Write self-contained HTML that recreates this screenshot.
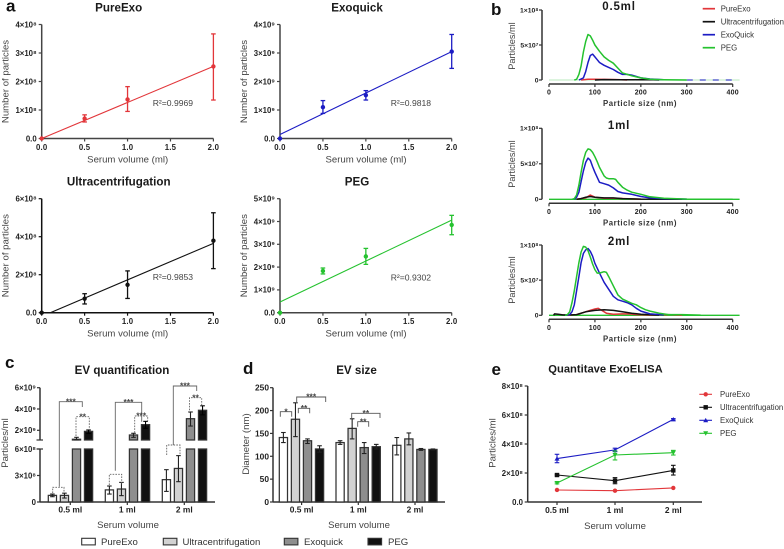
<!DOCTYPE html>
<html lang="en">
<head>
<meta charset="utf-8">
<title>EV isolation comparison figure</title>
<style>
html,body{margin:0;padding:0;background:#fff;width:784px;height:549px;overflow:hidden}
svg{display:block;font-family:"Liberation Sans",Arial,sans-serif;filter:blur(0.35px)}
</style>
</head>
<body>
<svg id="fig" xmlns="http://www.w3.org/2000/svg" width="784" height="549" viewBox="0 0 784 549">
<rect width="784" height="549" fill="#fff"/>
</svg>
<script>
// ---------- panel a data ----------
const volumes = [0, 0.5, 1, 2];
const xTicksA = [0, 0.5, 1, 1.5, 2];
const xTickLabelsA = ['0.0', '0.5', '1.0', '1.5', '2.0'];

const pureExoMean = [0, 0.7, 1.37, 2.53];
const pureExoLow = [0, 0.58, 0.95, 1.35];
const pureExoHigh = [0, 0.83, 1.82, 3.67];
const pureExoFit = [[0, 0], [2, 2.53]];
const pureExoTicks = [0, 1, 2, 3, 4];
const pureExoTickLabels = ['0.0', '1×10⁸', '2×10⁸', '3×10⁸', '4×10⁸'];

const exoquickMean = [0, 1.1, 1.52, 3.05];
const exoquickLow = [0, 0.88, 1.35, 2.46];
const exoquickHigh = [0, 1.33, 1.68, 3.65];
const exoquickFit = [[0, 0.14], [2, 3.05]];
const exoquickTicks = [0, 1, 2, 3, 4];
const exoquickTickLabels = ['0.0', '1×10⁹', '2×10⁹', '3×10⁹', '4×10⁹'];

const ultraMean = [0, 0.74, 1.47, 3.79];
const ultraLow = [0, 0.46, 0.75, 2.32];
const ultraHigh = [0, 1.0, 2.2, 5.26];
const ultraFit = [[0.1, 0], [2, 3.65]];
const ultraTicks = [0, 2, 4, 6];
const ultraTickLabels = ['0.0', '2×10⁸', '4×10⁸', '6×10⁸'];

const pegMean = [0, 1.83, 2.47, 3.85];
const pegLow = [0, 1.7, 2.12, 3.42];
const pegHigh = [0, 1.96, 2.82, 4.27];
const pegFit = [[0, 0.47], [2, 4.06]];
const pegTicks = [0, 1, 2, 3, 4, 5];
const pegTickLabels = ['0.0', '1×10⁹', '2×10⁹', '3×10⁹', '4×10⁹', '5×10⁹'];

// ---------- panel b data: [size nm, fraction of 1e8] ----------
const sizeTicks = [0, 100, 200, 300, 400];
const sizeLabelTicks = ['0', '100', '200', '300', '400'];
const nta05Red = [[70,0],[85,0.012],[100,0.01],[120,0.008],[150,0.006],[170,0]];
const nta05Black = [[100,0],[120,0.006],[150,0.004],[185,0.004],[220,0.006],[240,0]];
const nta05Blue = [[65,0],[75,0.03],[80,0.12],[85,0.25],[90,0.35],[95,0.37],[100,0.33],[105,0.29],[110,0.25],[120,0.21],[130,0.18],[140,0.15],[150,0.11],[160,0.08],[170,0.08],[180,0.07],[190,0.05],[200,0.03],[220,0.015],[250,0.003]];
const nta05Green = [[55,0],[60,0.01],[65,0.08],[70,0.2],[75,0.4],[80,0.55],[85,0.65],[90,0.63],[95,0.57],[100,0.5],[110,0.41],[120,0.33],[130,0.28],[140,0.24],[150,0.17],[160,0.1],[170,0.08],[180,0.06],[200,0.03],[220,0.01],[250,0.005],[300,0]];
const nta1Red = [[60,0],[80,0.02],[90,0.06],[100,0.03],[120,0.015],[140,0.015],[180,0.005],[200,0]];
const nta1Black = [[60,0],[70,0.01],[80,0.03],[90,0.04],[100,0.03],[120,0.02],[140,0.02],[160,0.01],[200,0.003],[290,0]];
const nta1Blue = [[55,0],[60,0.03],[65,0.1],[70,0.25],[75,0.4],[80,0.52],[85,0.58],[90,0.55],[95,0.46],[100,0.38],[110,0.24],[120,0.22],[130,0.2],[140,0.16],[150,0.11],[160,0.09],[180,0.07],[200,0.04],[220,0.02],[250,0.01],[300,0.003]];
const nta1Green = [[50,0],[55,0.01],[60,0.06],[65,0.2],[70,0.38],[75,0.55],[80,0.66],[85,0.71],[90,0.7],[95,0.66],[100,0.6],[105,0.53],[110,0.45],[120,0.33],[125,0.3],[130,0.29],[140,0.29],[145,0.28],[150,0.24],[160,0.17],[170,0.13],[180,0.1],[200,0.07],[220,0.035],[250,0.015],[300,0.003],[400,0]];
const nta2Red = [[40,0],[60,0.01],[80,0.05],[90,0.07],[100,0.09],[107,0.1],[115,0.07],[125,0.03],[140,0.015],[160,0.02],[175,0.02],[190,0.01],[220,0.003],[260,0.01],[290,0]];
const nta2Black = [[10,0],[12,0.02],[20,0.015],[30,0.005],[50,0.005],[60,0.01],[80,0.05],[100,0.07],[120,0.08],[140,0.07],[160,0.05],[180,0.03],[200,0.015],[240,0.003]];
const nta2Blue = [[38,0],[45,0.01],[50,0.05],[55,0.15],[60,0.35],[65,0.55],[70,0.75],[75,0.88],[80,0.93],[85,0.95],[90,0.91],[95,0.84],[100,0.74],[110,0.6],[120,0.47],[130,0.37],[140,0.27],[150,0.22],[160,0.2],[170,0.18],[180,0.15],[190,0.1],[200,0.06],[220,0.02],[250,0.005]];
const nta2Green = [[35,0],[40,0.01],[45,0.05],[50,0.18],[55,0.35],[60,0.55],[65,0.75],[70,0.9],[75,0.98],[80,0.97],[85,0.92],[90,0.83],[95,0.73],[100,0.65],[105,0.6],[110,0.6],[115,0.61],[120,0.62],[125,0.61],[130,0.55],[140,0.42],[150,0.29],[160,0.23],[170,0.2],[180,0.17],[190,0.15],[200,0.11],[210,0.08],[220,0.06],[240,0.03],[260,0.01],[290,0.01],[330,0.003]];

// ---------- panel c data (units 1e8) ----------
const groupLabels = ['0.5 ml', '1 ml', '2 ml'];
const quantPureExo = [0.75, 1.37, 2.53];
const quantPureExoLow = [0.6, 0.9, 1.2];
const quantPureExoHigh = [0.9, 1.81, 3.66];
const quantUltra = [0.75, 1.47, 3.8];
const quantUltraLow = [0.45, 0.72, 2.3];
const quantUltraHigh = [1.0, 2.22, 5.25];
const quantExo = [11.6, 15.6, 30.9];
const quantExoLow = [11, 13.4, 24];
const quantExoHigh = [13.4, 17.2, 37.2];
const quantPeg = [19, 25.3, 38.8];
const quantPegLow = [17, 21.9, 34.5];
const quantPegHigh = [20.3, 28.4, 43];
const quantTicks = [0, 3, 6, 20, 40, 60];
const quantTickLabels = ['0', '3×10⁸', '6×10⁸', '2×10⁹', '4×10⁹', '6×10⁹'];

// ---------- panel d data ----------
const sizePureExo = [141, 130, 124];
const sizePureExoLow = [130, 126, 103];
const sizePureExoHigh = [152, 134, 141];
const sizeUltra = [181, 161, 138];
const sizeUltraLow = [143, 138, 125];
const sizeUltraHigh = [217, 182, 151];
const sizeExo = [134, 119, 115];
const sizeExoLow = [128, 106, 113];
const sizeExoHigh = [138, 130, 117];
const sizePeg = [116, 121, 115];
const sizePegLow = [109, 116, 114];
const sizePegHigh = [123, 126, 116];
const diameterTicks = [0, 50, 100, 150, 200, 250];
const diameterTickLabels = ['0', '50', '100', '150', '200', '250'];

// ---------- panel e data (units 1e8) ----------
const elisaPureExo = [0.83, 0.78, 0.97];
const elisaUltra = [1.86, 1.47, 2.18];
const elisaUltraLow = [1.8, 1.26, 1.86];
const elisaUltraHigh = [1.92, 1.68, 2.53];
const elisaExo = [2.99, 3.59, 5.7];
const elisaExoLow = [2.71, 3.47, 5.65];
const elisaExoHigh = [3.29, 3.71, 5.75];
const elisaPeg = [1.31, 3.24, 3.4];
const elisaPegLow = [1.25, 2.9, 3.24];
const elisaPegHigh = [1.37, 3.52, 3.56];
const elisaTicks = [0, 2, 4, 6, 8];
const elisaTickLabels = ['0.0', '2×10⁸', '4×10⁸', '6×10⁸', '8×10⁸'];

// ---------- helpers ----------
const NS = 'http://www.w3.org/2000/svg';
const root = document.getElementById('fig');
const RED = '#e2363a', BLACK = '#111', BLUE = '#1c1cc4', GREEN = '#25c22f', AXIS = '#333', TXT = '#444';

function mk(parent, tag, attrs, name) {
  const el = document.createElementNS(NS, tag);
  for (const k in attrs) el.setAttribute(k, attrs[k]);
  
  
  parent.appendChild(el);
  return el;
}
function group(parent, name) { return mk(parent, 'g', {}, name); }
function line(p, x1, y1, x2, y2, color, w, name, dash) {
  const a = { x1: x1, y1: y1, x2: x2, y2: y2, stroke: color, 'stroke-width': w };
  if (dash) a['stroke-dasharray'] = dash;
  return mk(p, 'line', a, name);
}
function text(p, x, y, str, size, opts, name) {
  const o = opts || {};
  const a = { x: x, y: y, 'font-size': size, fill: o.fill || '#222', 'text-anchor': o.anchor || 'middle', 'font-weight': o.weight || 'normal' };
  if (o.spacing) a['letter-spacing'] = o.spacing;
  if (o.rotate) a.transform = 'rotate(-90 ' + x + ' ' + y + ')';
  const el = mk(p, 'text', a, name);
  el.textContent = str;
  return el;
}
function linear(d0, d1, r0, r1) { return v => r0 + (v - d0) * (r1 - r0) / (d1 - d0); }
function yAxis(p, x, sy, ticks, labels, color, size, top, bottom, labelEnd) {
  line(p, x, top, x, bottom, color, 1.5, 'y-axis-line');
  ticks.forEach((t, i) => {
    line(p, x - 3, sy(t), x, sy(t), color, 1.2, 'y-tick');
    text(p, labelEnd, sy(t) + size * 0.36, labels[i], size, { anchor: 'end', weight: 'bold', fill: '#222' }, 'y-tick-label');
  });
}
function xAxis(p, y, sx, ticks, labels, color, size, labelY, left, right) {
  line(p, left, y, right, y, color, 1.5, 'x-axis-line');
  ticks.forEach((t, i) => {
    line(p, sx(t), y, sx(t), y + 3, color, 1.2, 'x-tick');
    text(p, sx(t), labelY, labels[i], size, { weight: 'bold', spacing: '0.2', fill: '#222' }, 'x-tick-label');
  });
}
function errBar(p, x, sy, lo, hi, color, cap, w) {
  line(p, x, sy(lo), x, sy(hi), color, w, 'error-bar');
  line(p, x - cap, sy(lo), x + cap, sy(lo), color, w, 'error-cap-low');
  line(p, x - cap, sy(hi), x + cap, sy(hi), color, w, 'error-cap-high');
}

// ---------- panel letters ----------
[['a', 6, 11.5], ['b', 491, 15], ['c', 5, 368], ['d', 243, 374], ['e', 491.5, 375]].forEach(d => {
  text(root, d[1], d[2], d[0], 17, { anchor: 'start', weight: 'bold', fill: '#111' }, 'panel-letter-' + d[0]);
});

// ---------- panel a ----------
function scatterPanel(cfg) {
  const g = group(root, cfg.name);
  const sx = linear(0, 2, cfg.x0, cfg.x0 + 171.7);
  const sy = linear(0, cfg.yMax, cfg.y0, cfg.y0 - 114);
  text(g, cfg.x0 + 77, cfg.titleY, cfg.title, 11.6, { weight: 'bold', fill: '#1a1a1a' }, 'chart-title');
  yAxis(g, cfg.x0, sy, cfg.ticks, cfg.labels, cfg.axis, 7.8, cfg.y0 - 114, cfg.y0, cfg.x0 - 5);
  xAxis(g, cfg.y0, sx, xTicksA, xTickLabelsA, cfg.axis, 7.8, cfg.y0 + 11.5, cfg.x0, cfg.x0 + 171.7);
  text(g, cfg.x0 + 86, cfg.y0 + 24, 'Serum volume (ml)', 9.6, { fill: TXT }, 'x-axis-title');
  text(g, cfg.x0 - 33, cfg.y0 - 57, 'Number of particles', 9.6, { fill: TXT, rotate: true }, 'y-axis-title');
  line(g, sx(cfg.fit[0][0]), sy(cfg.fit[0][1]), sx(cfg.fit[1][0]), sy(cfg.fit[1][1]), cfg.color, 1.1, 'trend-line');
  volumes.forEach((v, i) => {
    if (v > 0) errBar(g, sx(v), sy, cfg.low[i], cfg.high[i], cfg.color, 2.3, 1.3);
    mk(g, 'circle', { cx: sx(v), cy: sy(cfg.mean[i]), r: 2.2, fill: cfg.color }, 'data-point');
  });
  const r = text(g, cfg.rx, cfg.ry, 'R²=' + cfg.r2, 8.6, { anchor: 'start', fill: TXT }, 'r-squared-label');
  return r;
}
scatterPanel({ name: 'pureexo-chart', title: 'PureExo', x0: 41.7, y0: 138.5, titleY: 11.5, yMax: 4, ticks: pureExoTicks, labels: pureExoTickLabels, axis: '#444', color: RED, mean: pureExoMean, low: pureExoLow, high: pureExoHigh, fit: pureExoFit, rx: 152.7, ry: 106, r2: '0.9969' });
scatterPanel({ name: 'exoquick-chart', title: 'Exoquick', x0: 280, y0: 138.5, titleY: 11.5, yMax: 4, ticks: exoquickTicks, labels: exoquickTickLabels, axis: '#444', color: BLUE, mean: exoquickMean, low: exoquickLow, high: exoquickHigh, fit: exoquickFit, rx: 390.7, ry: 106, r2: '0.9818' });
scatterPanel({ name: 'ultracentrifugation-chart', title: 'Ultracentrifugation', x0: 41.7, y0: 312.7, titleY: 185.7, yMax: 6, ticks: ultraTicks, labels: ultraTickLabels, axis: '#111', color: BLACK, mean: ultraMean, low: ultraLow, high: ultraHigh, fit: ultraFit, rx: 152.7, ry: 280, r2: '0.9853' });
scatterPanel({ name: 'peg-chart', title: 'PEG', x0: 280, y0: 312.7, titleY: 185.7, yMax: 5, ticks: pegTicks, labels: pegTickLabels, axis: '#444', color: GREEN, mean: pegMean, low: pegLow, high: pegHigh, fit: pegFit, rx: 390.7, ry: 280.5, r2: '0.9302' });

// ---------- panel b ----------
function ntaPanel(cfg) {
  const g = group(root, cfg.name);
  const sx = linear(0, 400, 549, 732.7);
  const sy = linear(0, 1, cfg.y0, cfg.yTop);
  text(g, 619, cfg.titleY, cfg.title, 11.5, { weight: 'bold', spacing: '0.8', fill: '#1a1a1a' }, 'chart-title');
  yAxis(g, 542, sy, [0, 0.5, 1], ['0', '5×10⁷', '1×10⁸'], '#333', 6.8, cfg.yTop, cfg.y0, 538.5);
  xAxis(g, cfg.y0 + 4, sx, sizeTicks, sizeLabelTicks, '#333', 7, cfg.y0 + 14.5, 549, 732.7);
  text(g, 640, cfg.y0 + 26, 'Particle size (nm)', 7.8, { weight: 'bold', spacing: '0.55', fill: '#333' }, 'x-axis-title');
  text(g, 515, cfg.midY, 'Particles/ml', 9.2, { fill: TXT, rotate: true }, 'y-axis-title');
  line(g, sx(0), sy(0), sx(415), sy(0), cfg.base, 1.3, 'baseline');
  if (cfg.dashes) line(g, sx(300), sy(0), sx(400), sy(0), BLUE, 0.9, 'baseline-dashes', '6 7');
  [[cfg.red, RED, 'pureexo-curve'], [cfg.black, BLACK, 'ultracentrifugation-curve'], [cfg.blue, BLUE, 'exoquick-curve'], [cfg.green, GREEN, 'peg-curve']].forEach(s => {
    mk(g, 'polyline', { points: s[0].map(d => sx(d[0]).toFixed(1) + ',' + sy(d[1]).toFixed(1)).join(' '), fill: 'none', stroke: s[1], 'stroke-width': 1.5, 'stroke-linejoin': 'round' }, s[2]);
  });
}
ntaPanel({ name: 'nta-0-5ml-chart', title: '0.5ml', titleY: 10, y0: 80, yTop: 10, midY: 46, base: '#c6eec9', dashes: true, red: nta05Red, black: nta05Black, blue: nta05Blue, green: nta05Green });
ntaPanel({ name: 'nta-1ml-chart', title: '1ml', titleY: 129, y0: 199.3, yTop: 128.3, midY: 164, base: GREEN, red: nta1Red, black: nta1Black, blue: nta1Blue, green: nta1Green });
ntaPanel({ name: 'nta-2ml-chart', title: '2ml', titleY: 245, y0: 315.3, yTop: 245, midY: 280, base: GREEN, red: nta2Red, black: nta2Black, blue: nta2Blue, green: nta2Green });

const legendBNames = ['PureExo', 'Ultracentrifugation', 'ExoQuick', 'PEG'];
const legendBColors = [RED, BLACK, BLUE, GREEN];
const legendB = group(root, 'nta-legend');
legendBNames.forEach((n, i) => {
  const y = 8.7 + i * 13;
  line(legendB, 702.7, y, 715, y, legendBColors[i], 1.7, 'legend-line');
  text(legendB, 720.7, y + 2.8, n, 7.8, { anchor: 'start', fill: '#333' }, 'legend-entry');
});

// ---------- bar helpers ----------
const barFills = ['#ffffff', '#d2d2d2', '#8e8e8e', '#111111'];
const barGroupOffsets = [0, 1, 2, 3];
function bracket(p, x1, x2, top, d1, d2, dashed, label, color) {
  const a = { d: 'M' + x1 + ' ' + d1 + 'V' + top + 'H' + x2 + 'V' + d2, fill: 'none', stroke: color || '#666', 'stroke-width': 0.9 };
  if (dashed) a['stroke-dasharray'] = '1.6 1.2';
  mk(p, 'path', a, dashed ? 'dashed-significance-bracket' : 'significance-bracket');
  if (label) text(p, (x1 + x2) / 2, top + 2.6, label, 8.5, { fill: '#444', weight: 'bold' }, 'significance-stars');
}

// ---------- panel c ----------
(function () {
  const g = group(root, 'ev-quantification-chart');
  const low = linear(0, 6, 502, 449);
  const high = linear(20, 60, 430.3, 387.7);
  const breakValue = 10.9;
  const sy = v => v <= 6 ? low(v) : high(v);
  text(g, 122, 374, 'EV quantification', 11.6, { weight: 'bold', fill: '#1a1a1a' }, 'chart-title');
  line(g, 40, 449, 40, 502, AXIS, 1.5, 'y-axis-lower');
  line(g, 40, 387.7, 40, 440, AXIS, 1.5, 'y-axis-upper');
  line(g, 36.5, 440, 43, 440, AXIS, 1.2, 'axis-break-upper');
  line(g, 36.5, 449, 43, 449, AXIS, 1.2, 'axis-break-lower');
  quantTicks.forEach((t, i) => {
    line(g, 37, sy(t), 40, sy(t), AXIS, 1.2, 'y-tick');
    text(g, 36, sy(t) + 2.8, quantTickLabels[i], 7.8, { anchor: 'end', weight: 'bold' }, 'y-tick-label');
  });
  line(g, 40, 502, 215, 502, AXIS, 1.5, 'x-axis-line');
  const series = [[quantPureExo, quantPureExoLow, quantPureExoHigh], [quantUltra, quantUltraLow, quantUltraHigh], [quantExo, quantExoLow, quantExoHigh], [quantPeg, quantPegLow, quantPegHigh]];
  groupLabels.forEach((lab, gi) => {
    const left = 48.3 + gi * 57;
    const cx = left + 22;
    line(g, cx, 502, cx, 505, AXIS, 1.2, 'x-tick');
    text(g, cx, 512.5, lab, 8.4, { weight: 'bold' }, 'x-tick-label');
    series.forEach((s, si) => {
      const x = left + barGroupOffsets[si] * 12.05;
      const v = s[0][gi];
      const attrs = { x: x, width: 8.2, fill: barFills[si], stroke: '#333', 'stroke-width': 1.25 };
      if (v <= 6) {
        mk(g, 'rect', Object.assign({ y: low(v), height: 502 - low(v) }, attrs), 'bar-' + lab.replace(/[ .]/g, '') + '-' + si);
      } else {
        mk(g, 'rect', Object.assign({ y: low(6), height: 502 - low(6) }, attrs), 'bar-lower-' + lab.replace(/[ .]/g, '') + '-' + si);
        mk(g, 'rect', Object.assign({ y: high(v), height: high(breakValue) - high(v) }, attrs), 'bar-upper-' + lab.replace(/[ .]/g, '') + '-' + si);
      }
      errBar(g, x + 4.1, sy, Math.max(s[1][gi], v <= 6 ? 0 : breakValue), s[2][gi], si === 3 ? '#000' : '#222', 2.3, 1.1);
    });
  });
  text(g, 128, 528, 'Serum volume', 9.6, { fill: TXT }, 'x-axis-title');
  text(g, 8, 443, 'Particles/ml', 9.6, { fill: TXT, rotate: true }, 'y-axis-title');
  bracket(g, 59.3, 82.3, 401.7, 486.7, 407, false, '***');
  bracket(g, 76, 89.3, 416.7, 436, 429, true, '**');
  bracket(g, 52.7, 64, 487.3, 493, 493, true);
  bracket(g, 115.3, 141.7, 402.3, 470.7, 421.7, false, '***');
  bracket(g, 134.7, 147.7, 416, 432.7, 420.7, true, '***');
  bracket(g, 109.3, 121.7, 474.3, 485, 485, true);
  bracket(g, 173.3, 196.7, 386, 445, 391, false, '***');
  bracket(g, 189.5, 201.7, 397.7, 413, 405, true, '**');
  bracket(g, 166.7, 180, 445, 455, 455, true);
})();

// ---------- panel d ----------
(function () {
  const g = group(root, 'ev-size-chart');
  const sy = linear(0, 250, 502, 387.7);
  text(g, 356.5, 374, 'EV size', 11.6, { weight: 'bold', fill: '#1a1a1a' }, 'chart-title');
  yAxis(g, 273, sy, diameterTicks, diameterTickLabels, AXIS, 8.4, 387.7, 502, 269);
  line(g, 273, 502, 445, 502, AXIS, 1.5, 'x-axis-line');
  const series = [[sizePureExo, sizePureExoLow, sizePureExoHigh], [sizeUltra, sizeUltraLow, sizeUltraHigh], [sizeExo, sizeExoLow, sizeExoHigh], [sizePeg, sizePegLow, sizePegHigh]];
  groupLabels.forEach((lab, gi) => {
    const left = 279.3 + gi * 56.7;
    const cx = left + 22.3;
    line(g, cx, 502, cx, 505, AXIS, 1.2, 'x-tick');
    text(g, cx, 512.5, lab, 8.4, { weight: 'bold' }, 'x-tick-label');
    series.forEach((s, si) => {
      const x = left + barGroupOffsets[si] * 12.05;
      const v = s[0][gi];
      mk(g, 'rect', { x: x, y: sy(v), width: 8.2, height: 502 - sy(v), fill: barFills[si], stroke: '#333', 'stroke-width': 1.25 }, 'bar-' + lab.replace(/[ .]/g, '') + '-' + si);
      errBar(g, x + 4.1, sy, s[1][gi], s[2][gi], '#222', 2.3, 1.1);
    });
  });
  text(g, 359, 528, 'Serum volume', 9.6, { fill: TXT }, 'x-axis-title');
  text(g, 249, 444, 'Diameter (nm)', 9.6, { fill: TXT, rotate: true }, 'y-axis-title');
  bracket(g, 280.3, 291.7, 411.7, 416.7, 416.7, false, '*', '#555');
  bracket(g, 298.3, 309.7, 408.3, 413.3, 413.3, false, '**', '#555');
  bracket(g, 296.7, 325.7, 397, 402, 402, false, '***', '#555');
  bracket(g, 351.7, 380, 413.3, 418, 418, false, '**', '#555');
  bracket(g, 357.7, 368.7, 421.7, 426.7, 426.7, false, '**', '#555');
})();

// ---------- bottom legend ----------
const barLegendNames = ['PureExo', 'Ultracentrifugation', 'Exoquick', 'PEG'];
const barLegend = group(root, 'bar-legend');
[[81.7, 101], [163.3, 182.5], [284.3, 304], [368, 388]].forEach((p, i) => {
  mk(barLegend, 'rect', { x: p[0], y: 538.3, width: 13.6, height: 6.6, fill: barFills[i], stroke: '#333', 'stroke-width': 1.1 }, 'legend-swatch');
  text(barLegend, p[1], 545, barLegendNames[i], 9.6, { anchor: 'start', fill: '#333' }, 'legend-entry');
});

// ---------- panel e ----------
function marker(p, kind, x, y, color) {
  if (kind === 'circle') return mk(p, 'circle', { cx: x, cy: y, r: 2.2, fill: color }, 'marker-circle');
  if (kind === 'square') return mk(p, 'rect', { x: x - 2.2, y: y - 2.2, width: 4.4, height: 4.4, fill: color }, 'marker-square');
  const s = kind === 'up' ? 1 : -1;
  return mk(p, 'polygon', { points: (x - 2.5) + ',' + (y + 2 * s) + ' ' + (x + 2.5) + ',' + (y + 2 * s) + ' ' + x + ',' + (y - 2.4 * s), fill: color }, 'marker-triangle');
}
(function () {
  const g = group(root, 'quantitative-exoelisa-chart');
  const sy = linear(0, 8, 502, 386);
  const cats = [557, 615, 673.3];
  text(g, 605.5, 372.7, 'Quantitave ExoELISA', 11.2, { weight: 'bold', fill: '#1a1a1a' }, 'chart-title');
  yAxis(g, 527.7, sy, elisaTicks, elisaTickLabels, AXIS, 7.8, 386, 502, 523);
  line(g, 527.7, 502, 702, 502, AXIS, 1.5, 'x-axis-line');
  groupLabels.forEach((lab, i) => {
    line(g, cats[i], 502, cats[i], 505, AXIS, 1.2, 'x-tick');
    text(g, cats[i], 513, lab, 8.4, { weight: 'bold' }, 'x-tick-label');
  });
  text(g, 615, 529, 'Serum volume', 9.6, { fill: TXT }, 'x-axis-title');
  text(g, 495.5, 443, 'Particles/ml', 9.6, { fill: TXT, rotate: true }, 'y-axis-title');
  const series = [
    { v: elisaPureExo, c: RED, m: 'circle', n: 'pureexo-series' },
    { v: elisaUltra, lo: elisaUltraLow, hi: elisaUltraHigh, c: BLACK, m: 'square', n: 'ultracentrifugation-series' },
    { v: elisaExo, lo: elisaExoLow, hi: elisaExoHigh, c: BLUE, m: 'up', n: 'exoquick-series' },
    { v: elisaPeg, lo: elisaPegLow, hi: elisaPegHigh, c: GREEN, m: 'down', n: 'peg-series' }
  ];
  series.forEach(s => {
    const sg = group(g, s.n);
    mk(sg, 'polyline', { points: s.v.map((v, i) => cats[i] + ',' + sy(v).toFixed(1)).join(' '), fill: 'none', stroke: s.c, 'stroke-width': 1.1 }, 'series-line');
    s.v.forEach((v, i) => {
      if (s.lo) errBar(sg, cats[i], sy, s.lo[i], s.hi[i], s.c, 2.3, 1.1);
      marker(sg, s.m, cats[i], sy(v), s.c);
    });
  });
  const lg = group(g, 'elisa-legend');
  const names = ['PureExo', 'Ultracentrifugation', 'ExoQuick', 'PEG'];
  series.forEach((s, i) => {
    const y = 394.3 + i * 13;
    line(lg, 699.3, y, 712, y, s.c, 1.1, 'legend-line');
    marker(lg, s.m, 705.7, y, s.c);
    text(lg, 720, y + 2.8, names[i], 7.8, { anchor: 'start', fill: '#333' }, 'legend-entry');
  });
})();
</script>
</body>
</html>
